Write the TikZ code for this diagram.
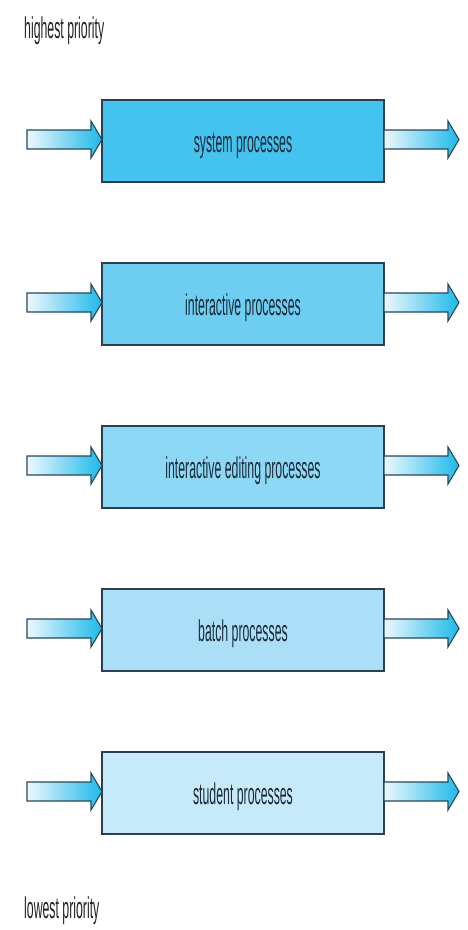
\documentclass[tikz,border=0pt]{standalone}
\usepackage{fontspec}
\usetikzlibrary{calc}
\newfontfamily\condensedsans[FakeStretch=0.41]{Liberation Sans}

\definecolor{qone}{HTML}{45C3EF}
\definecolor{qtwo}{HTML}{6ECEF2}
\definecolor{qthree}{HTML}{8DD8F5}
\definecolor{qfour}{HTML}{AADFF7}
\definecolor{qfive}{HTML}{C7EAFA}
\definecolor{boxline}{HTML}{2B3F4D}
\definecolor{labelink}{HTML}{1C2A38}
\definecolor{headink}{HTML}{222222}
\definecolor{arrowpale}{HTML}{EEF8FD}
\definecolor{arrowcyan}{HTML}{1DB9EA}
\definecolor{arrowline}{HTML}{25495C}

\tikzset{
  queue/.style={draw=boxline, line width=1.3pt, minimum width=282pt,
    minimum height=82pt, inner sep=0pt, outer sep=0pt},
  queuelabel/.style={font=\condensedsans\fontsize{30}{32}\selectfont,
    text=labelink, anchor=base, inner sep=0pt},
  prio/.style={font=\condensedsans\fontsize{30}{32}\selectfont,
    text=headink, anchor=base west, inner sep=0pt},
  flow/.style={draw=arrowline, line width=1.1pt, line join=miter,
    left color=arrowpale, right color=arrowcyan}
}

% block arrow from tail #1 to tip #2 (horizontal)
\newcommand\flowarrow[2]{%
  \path[flow] ($(#1)+(0,-9.5)$) -- ($(#2)+(-11,-9.5)$) -- ($(#2)+(-11,-18.5)$)
    -- (#2) -- ($(#2)+(-11,18.5)$) -- ($(#2)+(-11,9.5)$) -- ($(#1)+(0,9.5)$) -- cycle;}

\begin{document}
\begin{tikzpicture}[x=1pt,y=-1pt]
  \fill[white] (0,0) rectangle (467,930);
  \useasboundingbox (0,0) rectangle (467,930);

  \node[prio] (highest) at (24,38) {highest priority};
  \node[prio] (lowest) at (24,918) {lowest priority};

  \foreach \n/\t/\c/\txt in {1/100/qone/system processes,
                             2/263/qtwo/interactive processes,
                             3/426/qthree/interactive editing processes,
                             4/589/qfour/batch processes,
                             5/752/qfive/student processes}{
    \node[queue, fill=\c] (box\n) at (243,\t+41) {};
    \node[queuelabel] (label\n) at (243,\t+52) {\txt};
    \coordinate (in\n) at (27,\t+39.5);
    \coordinate (out\n) at (459,\t+39.5);
    \coordinate (tipin\n) at (box\n.west |- in\n);
    \coordinate (tailout\n) at (box\n.east |- out\n);
    \flowarrow{in\n}{tipin\n}
    \flowarrow{tailout\n}{out\n}
  }
\end{tikzpicture}
\end{document}
